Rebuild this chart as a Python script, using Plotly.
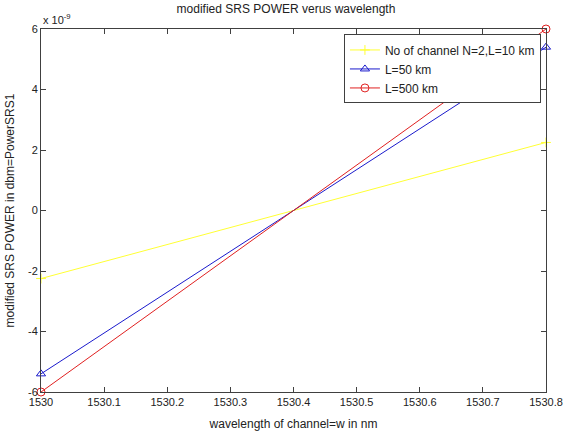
import plotly.graph_objects as go

# wavelength of channel (nm) and SRS power curves
wavelength = [1530.0, 1530.8]
power_n2_l10 = [-2.25e-9, 2.25e-9]
power_l50 = [-5.4e-9, 5.4e-9]
power_l500 = [-6.0e-9, 6.0e-9]

x_ticks = [1530, 1530.1, 1530.2, 1530.3, 1530.4, 1530.5, 1530.6, 1530.7, 1530.8]
x_labels = ["1530", "1530.1", "1530.2", "1530.3", "1530.4", "1530.5", "1530.6", "1530.7", "1530.8"]
y_ticks = [-6e-9, -4e-9, -2e-9, 0, 2e-9, 4e-9, 6e-9]
y_labels = ["-6", "-4", "-2", "0", "2", "4", "6"]

font = "Liberation Sans, Arial, sans-serif"

fig = go.Figure()

fig.add_trace(go.Scatter(
    x=wavelength, y=power_n2_l10, mode="lines+markers",
    name="No of channel N=2,L=10 km",
    line=dict(color="#FFFF33", width=1),
    marker=dict(symbol="cross-thin", size=7, line=dict(color="#FFFF33", width=1))
))
fig.add_trace(go.Scatter(
    x=wavelength, y=power_l50, mode="lines+markers",
    name="L=50 km",
    line=dict(color="#1a1acc", width=1),
    marker=dict(symbol="triangle-up-open", size=8, color="#1a1acc")
))
fig.add_trace(go.Scatter(
    x=wavelength, y=power_l500, mode="lines+markers",
    name="L=500 km",
    line=dict(color="#e02020", width=1),
    marker=dict(symbol="circle-open", size=8, color="#e02020")
))
fig.update_traces(cliponaxis=False)

axis_common = dict(
    showgrid=False, zeroline=False, showline=True, linecolor="#404040",
    linewidth=1, mirror="ticks", ticks="inside", ticklen=5,
    tickcolor="#404040", tickfont=dict(family=font, size=11, color="#222"),
    automargin=False, ticklabeloverflow="allow",
)

fig.update_xaxes(
    range=[1530, 1530.8000001], tickvals=x_ticks, ticktext=x_labels,
    title=dict(text="wavelength of channel=w in nm", standoff=12,
               font=dict(family=font, size=12, color="#222")),
    **axis_common
)
fig.update_yaxes(
    range=[-6e-9, 6e-9], tickvals=y_ticks, ticktext=y_labels,
    title=dict(text="modified SRS POWER in dbm=PowerSRS1", standoff=10,
               font=dict(family=font, size=12, color="#222")),
    **axis_common
)

fig.add_annotation(
    x=0, y=1, xref="paper", yref="paper", xanchor="left", yanchor="bottom",
    text="x 10<sup>-9</sup>", showarrow=False, xshift=0, yshift=1,
    font=dict(family=font, size=11, color="#222")
)

fig.update_layout(
    width=563, height=437,
    margin=dict(l=41, r=17, t=29, b=45),
    paper_bgcolor="white", plot_bgcolor="white",
    title=dict(text="modified SRS POWER verus wavelength", x=0.508, xanchor="center",
               y=0.98, yanchor="middle",
               font=dict(family=font, size=12, color="#222")),
    legend=dict(
        x=0.99, y=0.985, xanchor="right", yanchor="top",
        bgcolor="white", bordercolor="#404040", borderwidth=1,
        font=dict(family=font, size=12, color="#222"),
        tracegroupgap=0, itemwidth=30
    ),
    showlegend=True
)

fig.write_html("out.html", config={"displayModeBar": False},
               post_script="document.body.style.margin='0';")
